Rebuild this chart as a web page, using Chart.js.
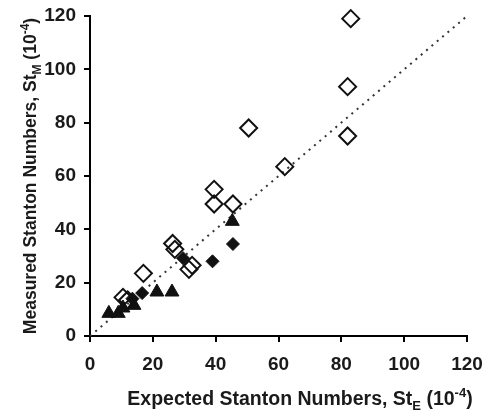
<!DOCTYPE html>
<html>
<head>
<meta charset="utf-8">
<script src="https://cdn.jsdelivr.net/npm/chart.js@4.4.1/dist/chart.umd.min.js"></script>
<style>
  html, body { margin: 0; padding: 0; background: #fff; }
  #wrap { width: 486px; height: 413px; }
</style>
</head>
<body>
<div id="wrap"><canvas id="stantonChart" width="486" height="413"></canvas></div>
<script>
// Expected (St_E) vs measured (St_M) Stanton numbers, units of 1e-4
const openExpected   = [83, 82, 82, 62, 50.5, 39.5, 39.5, 45.5, 26.3, 27, 32.5, 31.5, 17, 10.5, 12];
const openMeasured   = [119, 93.5, 75, 63.5, 78, 55, 49.5, 49.5, 34.7, 32.5, 26.5, 25, 23.5, 14.5, 13.5];
const filledExpected = [45.5, 39, 29.6, 16.6, 13.5];
const filledMeasured = [34.5, 28, 29.2, 16.1, 14];
const triExpected    = [45.3, 21.3, 26.1, 6, 9, 10.5, 14];
const triMeasured    = [43, 16.5, 16.5, 8.5, 8.5, 10.5, 11.5];
const parityLine     = [0, 120];
const axisTicks      = [0, 20, 40, 60, 80, 100, 120];

const FONT = "'Liberation Sans', Arial, sans-serif";
const INK = '#1a1a1a';

const toPoints = (xs, ys) => xs.map((x, i) => ({ x, y: ys[i] }));

// axis titles need sub/superscripts, so they are drawn by hand
function drawRichText(ctx, parts, size) {
  const small = Math.round(size * 0.68);
  const widths = parts.map(([t, kind]) => {
    ctx.font = `bold ${kind ? small : size}px ${FONT}`;
    return ctx.measureText(t).width;
  });
  const total = widths.reduce((a, b) => a + b, 0);
  let x = -total / 2;
  parts.forEach(([t, kind], i) => {
    ctx.font = `bold ${kind ? small : size}px ${FONT}`;
    const dy = kind === 'sub' ? size * 0.28 : kind === 'sup' ? -size * 0.42 : 0;
    ctx.fillText(t, x, dy);
    x += widths[i];
  });
}

const axisTitles = {
  id: 'axisTitles',
  afterDraw(chart) {
    const ctx = chart.ctx;
    ctx.save();
    ctx.fillStyle = INK;
    ctx.textBaseline = 'alphabetic';
    ctx.textAlign = 'left';

    ctx.save();
    ctx.translate(300, 405);
    drawRichText(ctx, [['Expected Stanton Numbers, St'], ['E', 'sub'], [' (10'], ['-4', 'sup'], [')']], 19.5);
    ctx.restore();

    ctx.save();
    ctx.translate(36, 176);
    ctx.rotate(-Math.PI / 2);
    drawRichText(ctx, [['Measured Stanton Numbers, St'], ['M', 'sub'], [' (10'], ['-4', 'sup'], [')']], 17.5);
    ctx.restore();

    ctx.restore();
  }
};

// fixed axis box sizes, no extra room reserved for edge labels
const fixBox = (w, h) => (s) => {
  if (w) s.width = w;
  if (h) s.height = h;
  s.paddingLeft = s.paddingRight = s.paddingTop = s.paddingBottom = 0;
};

const axisStyle = (fit, pad) => ({
  type: 'linear',
  min: 0,
  max: 120,
  afterBuildTicks: (s) => { s.ticks = axisTicks.map(v => ({ value: v })); },
  afterFit: fit,
  ticks: { color: INK, padding: pad, font: { family: FONT, size: 19, weight: 'bold' } },
  grid: { drawOnChartArea: false, drawTicks: true, tickLength: 6, color: '#000', lineWidth: 2 },
  border: { display: true, color: '#000', width: 2 },
  title: { display: false }
});

new Chart(document.getElementById('stantonChart').getContext('2d'), {
  type: 'scatter',
  data: {
    datasets: [{
      label: 'Open',
      data: toPoints(openExpected, openMeasured),
      pointStyle: 'rectRot',
      pointRadius: 8.5,
      pointBorderWidth: 2,
      borderColor: '#111',
      backgroundColor: 'rgba(0,0,0,0)',
      clip: false,
      order: 1
    }, {
      label: 'Filled',
      data: toPoints(filledExpected, filledMeasured),
      pointStyle: 'rectRot',
      pointRadius: 6.5,
      pointBorderWidth: 1,
      borderColor: '#111',
      backgroundColor: '#111',
      clip: false,
      order: 2
    }, {
      label: 'Triangle',
      data: toPoints(triExpected, triMeasured),
      pointStyle: 'triangle',
      pointRadius: 8,
      pointBorderWidth: 1,
      borderColor: '#111',
      backgroundColor: '#111',
      clip: false,
      order: 3
    }, {
      type: 'line',
      label: 'y = x',
      data: toPoints(parityLine, parityLine),
      borderColor: '#333',
      borderWidth: 2,
      borderDash: [2, 5],
      pointRadius: 0,
      fill: false,
      clip: false,
      order: 10
    }]
  },
  options: {
    responsive: false,
    animation: false,
    layout: { padding: { top: 16, right: 19, left: 0, bottom: 0 } },
    scales: {
      x: axisStyle(fixBox(0, 77), 11),
      y: axisStyle(fixBox(90, 0), 8)
    },
    plugins: { legend: { display: false }, tooltip: { enabled: false } }
  },
  plugins: [axisTitles]
});
</script>
</body>
</html>
